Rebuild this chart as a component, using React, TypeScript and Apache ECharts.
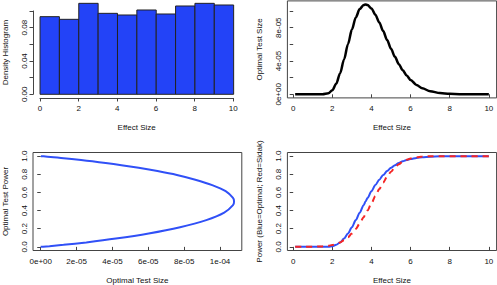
import React, { useEffect, useRef } from 'react';
import * as echarts from 'echarts';

// ---------- data ----------
const histEdges = [0, 1, 2, 3, 4, 5, 6, 7, 8, 9, 10];
const histDensity = [0.0932, 0.09, 0.1092, 0.0972, 0.0952, 0.1012, 0.0964, 0.106, 0.1092, 0.1072];

const effectSize = [0.1, 0.5, 1.0, 1.5, 1.8, 2.0, 2.2, 2.4, 2.6, 2.8, 3.0, 3.2, 3.4, 3.6, 3.7, 3.8, 4.0, 4.2, 4.4, 4.6, 4.8, 5.0, 5.2, 5.4, 5.6, 5.8, 6.0, 6.3, 6.6, 7.0, 7.5, 8.0, 8.5, 9.0, 9.5, 10];
const optimalSize = [0, 0, 0, 5.4e-8, 1.28e-6, 4.87e-6, 1.27e-5, 2.54e-5, 4.19e-5, 6.02e-5, 7.77e-5, 9.23e-5, 1.023e-4, 1.072e-4, 1.078e-4, 1.072e-4, 1.031e-4, 9.56e-5, 8.62e-5, 7.59e-5, 6.51e-5, 5.46e-5, 4.5e-5, 3.62e-5, 2.88e-5, 2.25e-5, 1.73e-5, 1.13e-5, 7.2e-6, 3.77e-6, 1.56e-6, 6.0e-7, 2.2e-7, 7e-8, 2e-8, 7e-9];
const optimalPower = [0, 0, 0, 0.00007, 0.0018, 0.0077, 0.0222, 0.0493, 0.0913, 0.148, 0.217, 0.295, 0.377, 0.46, 0.5, 0.539, 0.614, 0.681, 0.74, 0.792, 0.835, 0.871, 0.9, 0.924, 0.943, 0.957, 0.968, 0.98, 0.988, 0.9942, 0.9977, 0.9992, 0.9997, 0.9999, 1.0, 1.0];
const sidakPower = [0.00004, 0.0002, 0.0011, 0.0054, 0.0122, 0.0202, 0.0322, 0.0495, 0.0735, 0.1056, 0.1469, 0.1977, 0.2578, 0.3264, 0.3632, 0.4013, 0.4801, 0.5596, 0.6368, 0.7088, 0.7734, 0.8289, 0.8749, 0.9115, 0.9394, 0.9599, 0.9744, 0.9878, 0.9946, 0.9984, 0.9997, 1.0, 1.0, 1.0, 1.0, 1.0];

// ---------- ticks ----------
const effectTicks = [0, 2, 4, 6, 8, 10];
const effectLabels = ['0', '2', '4', '6', '8', '10'];
const histYTicks = [0, 0.02, 0.04, 0.06, 0.08, 0.1];
const histYLabels = ['0.00', '', '0.04', '', '0.08', ''];
const sizeTicks = [0, 2e-5, 4e-5, 6e-5, 8e-5, 1e-4];
const sizeYLabels = ['0e+00', '', '4e-05', '', '8e-05', ''];
const sizeXLabels = ['0e+00', '2e-05', '4e-05', '6e-05', '8e-05', '1e-04'];
const powerTicks = [0, 0.2, 0.4, 0.6, 0.8, 1.0];
const powerLabels = ['0.0', '0.2', '0.4', '0.6', '0.8', '1.0'];

// ---------- style ----------
const FONT = '"Liberation Sans", Arial, Helvetica, sans-serif';
const AX = '#444';
const TXT = '#111';
const BAR = '#2343f7';
const BLUE = '#3050f7';
const RED = '#f52525';
const FS = 8;

function fmt(ticks: number[], labels: string[]) {
  return (v: number) => {
    let best = 0;
    for (let i = 1; i < ticks.length; i++) {
      if (Math.abs(ticks[i] - v) < Math.abs(ticks[best] - v)) best = i;
    }
    return labels[best];
  };
}

function axis(o: any) {
  const isY = o.dim === 'y';
  if (o.hidden) {
    return { type: 'value', gridIndex: o.grid, min: o.min, max: o.max, show: false };
  }
  return {
    type: 'value',
    gridIndex: o.grid,
    min: o.min,
    max: o.max,
    position: isY ? 'left' : 'bottom',
    splitLine: { show: false },
    axisLine: { show: !!o.line, lineStyle: { color: AX, width: 1 } },
    axisTick: { show: true, length: 3.5, customValues: o.ticks, lineStyle: { color: AX, width: 1 } },
    axisLabel: {
      show: true,
      customValues: o.ticks,
      formatter: fmt(o.ticks, o.labels),
      fontSize: FS,
      fontFamily: FONT,
      color: TXT,
      rotate: isY ? 90 : 0,
      margin: isY ? 5 : 7,
      hideOverlap: false,
      showMinLabel: true,
      showMaxLabel: true,
    },
    name: o.name,
    nameLocation: 'middle',
    nameGap: isY ? 24 : 25.5,
    nameTextStyle: { fontSize: FS, fontFamily: FONT, color: TXT },
  };
}

export default function App() {
  const ref = useRef<HTMLDivElement>(null);
  useEffect(() => {
    document.body.style.margin = '0';
    const chart = echarts.init(ref.current!, null, { renderer: 'svg' });
    const boxed = { show: true, borderColor: AX, borderWidth: 1, backgroundColor: 'transparent' };
    const option: any = {
      animation: false,
      backgroundColor: '#fff',
      grid: [
        { left: 32.3, top: 0, width: 209.1, height: 97.97, show: false },
        { left: 287.4, top: 0.9, width: 209.2, height: 97.0, ...boxed },
        { left: 32.3, top: 152.5, width: 209.5, height: 98.5, ...boxed },
        { left: 287.4, top: 152.5, width: 209.2, height: 98.5, ...boxed },
        { left: 40, top: 0, width: 193.3, height: 97.97, show: false },
        { left: 32.3, top: 10.97, width: 209.1, height: 83.33, show: false },
      ],
      xAxis: [
        axis({ dim: 'x', grid: 0, min: -0.4, max: 10.4, hidden: true }),
        axis({ dim: 'x', grid: 1, min: -0.296, max: 10.396, ticks: effectTicks, labels: effectLabels, name: 'Effect Size' }),
        axis({ dim: 'x', grid: 2, min: -4.31e-6, max: 1.1211e-4, ticks: sizeTicks, labels: sizeXLabels, name: 'Optimal Test Size' }),
        axis({ dim: 'x', grid: 3, min: -0.296, max: 10.396, ticks: effectTicks, labels: effectLabels, name: 'Effect Size' }),
        axis({ dim: 'x', grid: 4, min: 0, max: 10, ticks: effectTicks, labels: effectLabels, name: 'Effect Size', line: true }),
        axis({ dim: 'x', grid: 5, min: 0, max: 1, hidden: true }),
      ],
      yAxis: [
        axis({ dim: 'y', grid: 0, min: -0.0044, max: 0.1132, hidden: true }),
        axis({ dim: 'y', grid: 1, min: -4.31e-6, max: 1.1211e-4, ticks: sizeTicks, labels: sizeYLabels, name: 'Optimal Test Size' }),
        axis({ dim: 'y', grid: 2, min: -0.04, max: 1.04, ticks: powerTicks, labels: powerLabels, name: 'Optimal Test Power' }),
        axis({ dim: 'y', grid: 3, min: -0.04, max: 1.04, ticks: powerTicks, labels: powerLabels, name: 'Power (Blue=Optimal; Red=Sidak)' }),
        axis({ dim: 'y', grid: 4, min: 0, max: 1, hidden: true }),
        axis({ dim: 'y', grid: 5, min: 0, max: 0.1, ticks: histYTicks, labels: histYLabels, name: 'Density Histogram', line: true }),
      ],
      series: [
        {
          type: 'custom',
          xAxisIndex: 0,
          yAxisIndex: 0,
          data: histDensity.map((d, i) => [histEdges[i], histEdges[i + 1], d]),
          encode: { x: [0, 1], y: 2 },
          renderItem: (params: any, api: any) => {
            const p0 = api.coord([api.value(0), 0]);
            const p1 = api.coord([api.value(1), api.value(2)]);
            return {
              type: 'rect',
              shape: { x: p0[0], y: p1[1], width: p1[0] - p0[0], height: p0[1] - p1[1] },
              style: { fill: BAR, stroke: '#222', lineWidth: 1 },
            };
          },
        },
        {
          type: 'line',
          xAxisIndex: 1,
          yAxisIndex: 1,
          data: effectSize.map((m, i) => [m, optimalSize[i]]),
          showSymbol: false,
          smooth: 0.3,
          smoothMonotone: 'x',
          lineStyle: { color: '#000', width: 2.5 },
        },
        {
          type: 'line',
          xAxisIndex: 2,
          yAxisIndex: 2,
          data: optimalSize.map((a, i) => [a, optimalPower[i]]),
          showSymbol: false,
          smooth: 0.25,
          lineStyle: { color: BLUE, width: 2 },
        },
        {
          type: 'line',
          xAxisIndex: 3,
          yAxisIndex: 3,
          data: effectSize.map((m, i) => [m, optimalPower[i]]),
          showSymbol: false,
          smooth: 0.3,
          smoothMonotone: 'x',
          lineStyle: { color: BLUE, width: 2 },
        },
        {
          type: 'line',
          xAxisIndex: 3,
          yAxisIndex: 3,
          data: effectSize.map((m, i) => [m, sidakPower[i]]),
          showSymbol: false,
          smooth: 0.3,
          smoothMonotone: 'x',
          lineStyle: { color: RED, width: 2, type: [6, 5] },
        },
      ],
    };
    chart.setOption(option);
    return () => chart.dispose();
  }, []);
  return <div ref={ref} style={{ width: 497, height: 285, position: 'absolute', left: 0, top: 0 }} />;
}
